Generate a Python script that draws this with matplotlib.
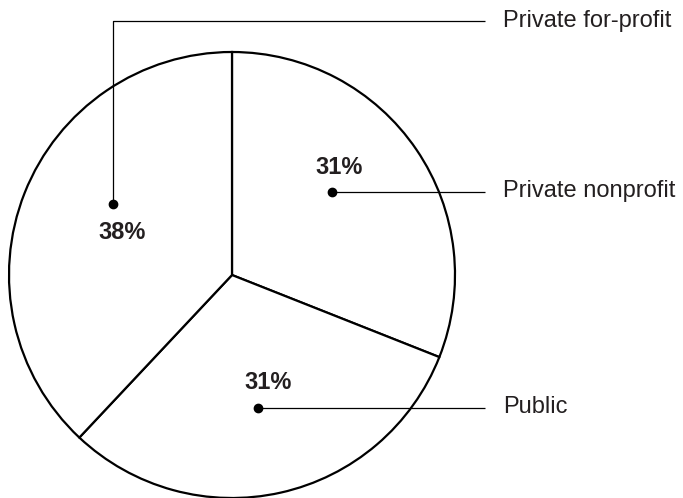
import matplotlib
matplotlib.use("Agg")
import matplotlib.pyplot as plt

categories = ["Private nonprofit", "Public", "Private for-profit"]
values = [31, 31, 38]
pct_labels = ["31%", "31%", "38%"]

W, H = 683, 498
fig = plt.figure(figsize=(W / 100, H / 100), dpi=100)
ax = fig.add_axes([0, 0, 1, 1])

cx, cy, R = 232, 275, 223
# y axis is inverted (pixel coords), so data-counterclockwise is visually clockwise
ax.pie(values, startangle=-90, counterclock=True, center=(cx, cy), radius=R,
       colors=["white"] * 3,
       wedgeprops=dict(edgecolor="black", linewidth=1.6))
ax.set_xlim(0, W)
ax.set_ylim(H, 0)
ax.set_aspect("equal")
ax.axis("off")

font = "Liberation Sans"
layout = [
    dict(txt=(339, 167), dot=(332, 192), path=[(332, 192), (485, 192)], lab=(503, 191)),
    dict(txt=(268, 382), dot=(258, 408), path=[(258, 408), (485, 408)], lab=(503, 407)),
    dict(txt=(122, 232), dot=(113, 204), path=[(113, 204), (113, 21), (485, 21)], lab=(503, 21)),
]
for cat, pl, lo in zip(categories, pct_labels, layout):
    ax.text(*lo["txt"], pl, ha="center", va="center", fontsize=17, fontweight="bold",
            family=font, color="#231f20")
    xs, ys = zip(*lo["path"])
    ax.plot(xs, ys, color="black", linewidth=0.9, solid_capstyle="butt")
    ax.plot(*lo["dot"], "o", color="black", markersize=6)
    ax.text(*lo["lab"], cat, ha="left", va="center", fontsize=17, family=font, color="#231f20")

fig.savefig("out.png", dpi=100)
